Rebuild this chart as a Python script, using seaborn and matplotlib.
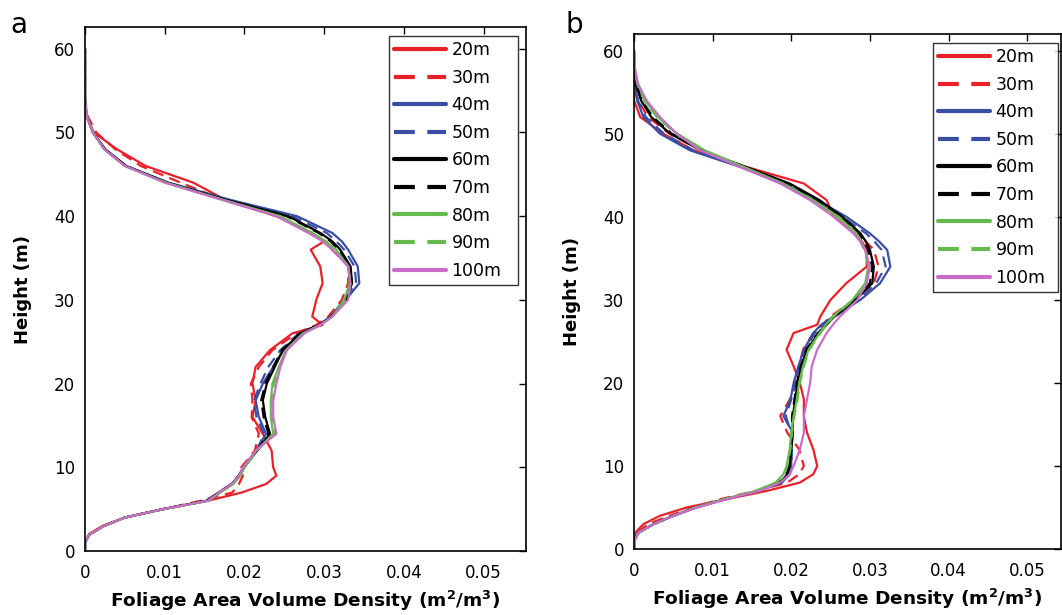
import matplotlib
matplotlib.use("Agg")
import matplotlib.pyplot as plt
import numpy as np
import pandas as pd
import seaborn as sns

# heights (m) shared by every profile
heights = [0, 1, 2, 3, 4, 5, 6, 7, 8, 9, 10, 12, 14, 16, 18, 20, 22, 24, 26, 27,
           28, 30, 32, 34, 36, 37, 38, 40, 42, 44, 46, 48, 50, 52, 54, 56, 58, 60]

labels = ["20m", "30m", "40m", "50m", "60m", "70m", "80m", "90m", "100m"]
colors = ["#e8202a", "#e8202a", "#3b4ea6", "#3b4ea6", "#000000", "#000000",
          "#66bb4f", "#66bb4f", "#c86cc8"]
dashed = [False, True, False, True, False, True, False, True, False]

# foliage area volume density, panel a (units of 1e-3 m2/m3)
a_20m = [0, 0, 0.5, 2.2, 5.0, 9.7, 15.4, 19.7, 22.7, 24.0, 23.6, 23.4, 22.3, 21.0, 21.4, 21.0, 21.4, 23.2, 26.0, 29.8,
         28.5, 29.0, 29.8, 29.5, 28.3, 30.0, 28.5, 24.0, 17.5, 13.6, 7.6, 4.0, 1.1, 0.2, 0, 0, 0, 0]
a_30m = [0, 0, 0.5, 2.3, 5.0, 9.8, 14.5, 18.5, 19.3, 19.8, 19.6, 21.3, 21.8, 20.9, 21.0, 20.8, 21.8, 23.5, 26.5, 29.0,
         30.5, 32.2, 33.0, 33.0, 31.0, 30.0, 28.5, 24.0, 17.2, 12.0, 7.0, 3.8, 1.4, 0.3, 0, 0, 0, 0]
a_40m = [0, 0, 0.6, 2.4, 5.0, 9.8, 15.2, 16.8, 18.4, 19.3, 20.0, 21.5, 22.7, 21.8, 21.4, 22.3, 23.6, 24.9, 27.0, 29.5,
         30.8, 32.7, 34.4, 34.2, 33.0, 32.2, 31.0, 26.6, 18.0, 10.5, 5.2, 2.5, 1.0, 0.2, 0, 0, 0, 0]
a_50m = [0, 0, 0.6, 2.4, 5.0, 9.8, 15.2, 16.8, 18.4, 19.3, 20.0, 21.5, 22.5, 21.5, 21.2, 22.0, 23.0, 24.5, 26.8, 29.3,
         30.8, 32.5, 34.0, 33.8, 32.5, 31.5, 30.3, 26.0, 17.8, 10.4, 5.1, 2.5, 1.0, 0.2, 0, 0, 0, 0]
a_60m = [0, 0, 0.6, 2.4, 5.0, 9.8, 15.3, 16.8, 18.4, 19.3, 19.9, 21.6, 23.2, 22.6, 22.3, 22.8, 23.8, 24.8, 27.0, 29.4,
         30.9, 32.7, 33.5, 33.3, 32.0, 31.0, 29.5, 25.5, 17.5, 10.3, 5.1, 2.5, 1.0, 0.2, 0, 0, 0, 0]
a_70m = [0, 0, 0.6, 2.4, 5.0, 9.8, 15.3, 16.8, 18.4, 19.3, 19.9, 21.6, 23.0, 22.4, 22.1, 22.6, 23.6, 24.7, 27.0, 29.4,
         30.9, 32.6, 33.4, 33.2, 31.8, 30.8, 29.3, 25.3, 17.4, 10.3, 5.1, 2.5, 1.0, 0.2, 0, 0, 0, 0]
a_80m = [0, 0, 0.6, 2.4, 5.0, 9.9, 15.5, 17.0, 18.6, 19.5, 20.0, 21.5, 23.6, 23.3, 23.3, 23.5, 24.3, 25.2, 27.3, 29.5,
         31.0, 32.5, 33.2, 33.0, 31.5, 30.2, 28.5, 24.5, 17.2, 10.2, 5.0, 2.4, 1.0, 0.2, 0, 0, 0, 0]
a_90m = [0, 0, 0.6, 2.4, 5.0, 9.9, 15.4, 17.0, 18.5, 19.4, 20.0, 21.5, 23.8, 23.4, 23.4, 23.7, 24.4, 25.3, 27.4, 29.5,
         31.0, 32.8, 33.3, 33.0, 31.3, 30.0, 28.3, 24.3, 17.1, 10.1, 5.0, 2.4, 1.0, 0.2, 0, 0, 0, 0]
a_100m = [0, 0, 0.6, 2.4, 5.0, 9.8, 15.4, 16.8, 18.4, 19.3, 19.8, 21.4, 24.0, 23.6, 23.6, 24.0, 24.5, 25.3, 27.5, 29.5,
          31.0, 33.0, 33.3, 33.0, 31.0, 29.8, 28.0, 24.0, 17.0, 10.0, 5.0, 2.4, 1.0, 0.2, 0, 0, 0, 0]

# panel b (units of 1e-3 m2/m3)
b_20m = [0, 0, 0.2, 1.2, 3.3, 6.7, 11.8, 16.9, 21.1, 22.8, 23.3, 22.8, 22.0, 21.6, 21.6, 21.1, 20.3, 19.4, 20.3, 23.3,
         23.7, 25.0, 27.0, 29.6, 29.6, 29.0, 28.0, 25.4, 24.5, 21.6, 14.3, 7.6, 3.7, 0.8, 0, 0, 0, 0]
b_30m = [0, 0, 0.4, 1.8, 4.5, 7.5, 11.0, 15.5, 19.5, 21.0, 21.6, 21.0, 19.5, 18.6, 19.8, 20.8, 21.0, 21.5, 22.8, 24.0,
         25.0, 28.0, 30.5, 31.1, 30.5, 29.5, 28.5, 26.0, 23.0, 19.5, 14.0, 8.5, 4.5, 1.8, 0.5, 0, 0, 0]
b_40m = [0, 0, 0.6, 2.5, 5.0, 7.8, 11.5, 15.8, 18.8, 19.8, 20.0, 20.0, 20.2, 19.0, 19.9, 20.3, 20.9, 21.6, 22.8, 23.8,
         25.4, 28.8, 31.3, 32.6, 32.2, 31.2, 30.0, 27.0, 23.3, 19.0, 13.5, 7.1, 3.3, 1.2, 0.4, 0, 0, 0]
b_50m = [0, 0, 0.6, 2.5, 5.0, 7.8, 11.5, 15.8, 18.8, 19.8, 20.0, 20.1, 20.0, 19.3, 20.0, 20.5, 21.0, 21.8, 23.0, 24.2,
         25.6, 28.6, 30.8, 32.0, 31.5, 30.6, 29.5, 26.5, 23.0, 18.8, 13.6, 7.5, 3.8, 1.5, 0.5, 0.1, 0, 0]
b_60m = [0, 0, 0.6, 2.5, 5.0, 7.9, 11.6, 15.8, 18.6, 19.5, 19.8, 20.0, 20.2, 20.2, 20.5, 20.8, 21.3, 22.0, 23.5, 24.5,
         25.5, 28.2, 30.3, 30.5, 30.0, 29.5, 28.8, 26.5, 23.6, 19.8, 14.2, 8.5, 4.6, 2.2, 0.9, 0.2, 0, 0]
b_70m = [0, 0, 0.6, 2.5, 5.0, 7.9, 11.6, 15.8, 18.5, 19.4, 19.7, 19.9, 20.1, 20.1, 20.4, 20.7, 21.2, 21.9, 23.4, 24.4,
         25.4, 28.0, 30.0, 30.3, 29.8, 29.3, 28.6, 26.3, 23.4, 19.6, 14.1, 8.6, 4.8, 2.4, 1.0, 0.3, 0, 0]
b_80m = [0, 0, 0.6, 2.5, 5.0, 7.8, 11.5, 15.5, 18.0, 19.0, 19.4, 19.8, 20.0, 20.3, 20.7, 21.0, 21.5, 22.2, 23.6, 24.4,
         25.3, 27.8, 29.4, 29.8, 29.4, 28.9, 28.3, 26.0, 22.8, 19.0, 14.0, 9.0, 5.5, 3.0, 1.4, 0.5, 0, 0]
b_90m = [0, 0, 0.6, 2.5, 5.0, 7.8, 11.5, 15.5, 18.1, 19.1, 19.5, 19.9, 20.1, 20.4, 20.8, 21.1, 21.6, 22.3, 23.7, 24.5,
         25.4, 27.9, 29.5, 29.9, 29.3, 28.8, 28.1, 25.8, 22.7, 18.8, 13.8, 8.8, 5.3, 2.9, 1.3, 0.4, 0, 0]
b_100m = [0, 0, 0.6, 2.5, 5.0, 8.0, 11.8, 16.0, 18.6, 19.8, 20.3, 21.1, 21.6, 21.6, 22.0, 22.4, 22.6, 23.3, 24.5, 25.3,
          26.2, 28.4, 29.6, 30.0, 29.4, 28.8, 27.9, 25.4, 22.4, 18.6, 13.5, 8.4, 5.4, 3.3, 1.6, 0.5, 0.1, 0]

panel_a = [a_20m, a_30m, a_40m, a_50m, a_60m, a_70m, a_80m, a_90m, a_100m]
panel_b = [b_20m, b_30m, b_40m, b_50m, b_60m, b_70m, b_80m, b_90m, b_100m]

sns.set_style("white")
plt.rcParams['font.family'] = ['DejaVu Sans']
plt.rcParams['mathtext.fontset'] = 'dejavusans'
plt.rcParams['text.color'] = 'black'
plt.rcParams['axes.labelcolor'] = 'black'

fig = plt.figure(figsize=(10.62, 6.15), dpi=100)
W, H = 1062.0, 615.0


def px_axes(left, top, right, bottom):
    return fig.add_axes([left / W, 1 - bottom / H, (right - left) / W, (bottom - top) / H])


def draw_panel(ax, profiles, xmax, ymax, leg_box):
    for vals, lab, col, dsh in zip(profiles, labels, colors, dashed):
        df = pd.DataFrame({"density": np.array(vals) / 1000.0, "height": heights})
        sns.lineplot(data=df, x="density", y="height", sort=False, color=col,
                     linewidth=1.6, label=lab, ax=ax, estimator=None,
                     linestyle=(0, (5, 3)) if dsh else '-')
    ax.set_xlim(0, xmax)
    ax.set_ylim(0, ymax)
    ax.set_xticks([0, 0.01, 0.02, 0.03, 0.04, 0.05])
    ax.set_xticklabels(["0", "0.01", "0.02", "0.03", "0.04", "0.05"])
    ax.set_yticks([0, 10, 20, 30, 40, 50, 60])
    ax.tick_params(direction='in', top=True, right=True, length=5, width=1,
                   labelsize=12, colors='black')
    ax.tick_params(axis='x', pad=9)
    ax.tick_params(axis='y', pad=7)
    for s in ax.spines.values():
        s.set_visible(True)
        s.set_color('black')
        s.set_linewidth(1.2)
    ax.set_xlabel(r"Foliage Area Volume Density (m$^\mathbf{2}$/m$^\mathbf{3}$)",
                  fontsize=13.3, fontweight='bold', labelpad=5)
    ax.set_ylabel("Height (m)", fontsize=13, fontweight='bold', labelpad=16)
    l, t, r, b = leg_box
    leg = ax.legend(loc='upper left', bbox_to_anchor=(l / W, 1 - b / H, (r - l) / W, (b - t) / H),
                    bbox_transform=fig.transFigure, borderaxespad=0, mode='expand',
                    fancybox=False, frameon=True, edgecolor='black',
                    fontsize=12.5, handlelength=3.0, handletextpad=0.3,
                    labelspacing=0.55, borderpad=0.3)
    leg.get_frame().set_linewidth(1.0)
    for line in leg.get_lines():
        line.set_linewidth(3.0)


ax_a = px_axes(85, 27, 526, 551)
draw_panel(ax_a, panel_a, 0.0553, 62.6, (389, 36, 518, 288))

ax_b = px_axes(634, 34, 1061, 549)
draw_panel(ax_b, panel_b, 0.0543, 62.0, (933, 43, 1058, 290))

fig.text(10 / W, 1 - 33 / H, "a", fontsize=20, va='baseline', ha='left')
fig.text(565 / W, 1 - 33 / H, "b", fontsize=20, va='baseline', ha='left')

fig.savefig("out.png", dpi=100)
